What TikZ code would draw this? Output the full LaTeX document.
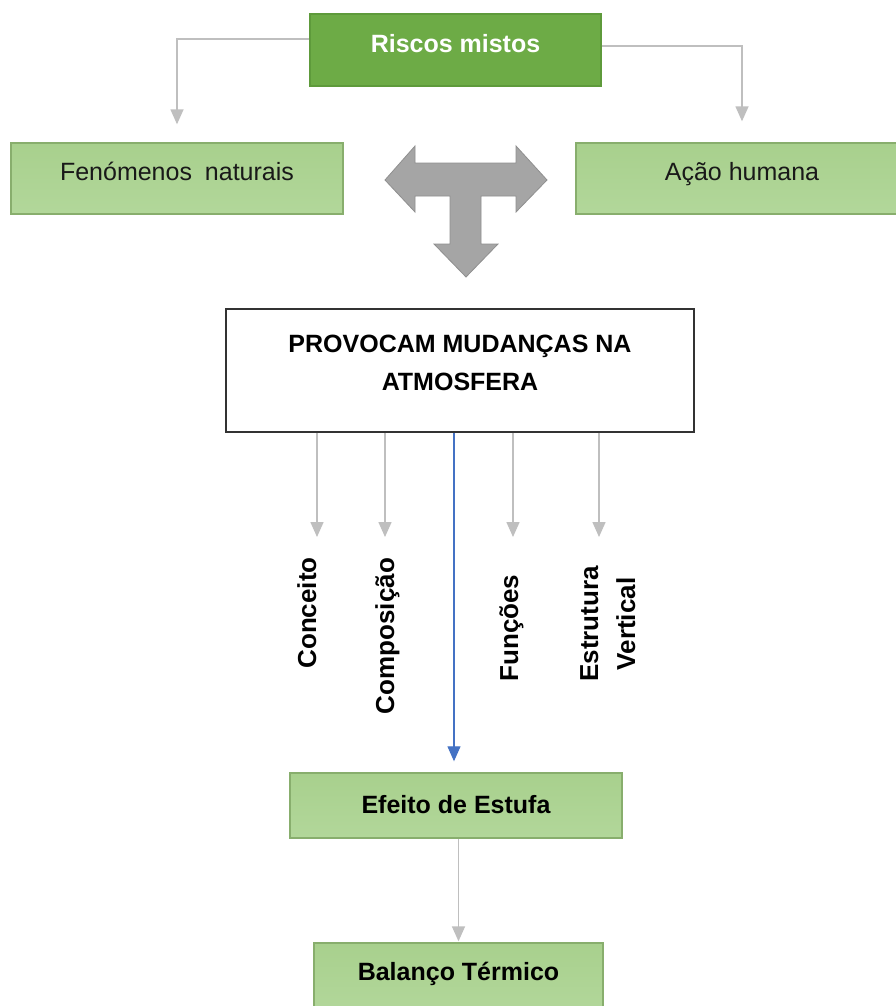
\documentclass[tikz,border=0pt]{standalone}
\usepackage{fontspec}
\setmainfont{Liberation Sans}
\usetikzlibrary{arrows.meta}
\definecolor{dkgreen}{HTML}{6DAB46}
\definecolor{dkgreenb}{HTML}{5E9A3B}
\definecolor{ltgreen}{HTML}{A8D08D}
\definecolor{ltgreenb}{HTML}{B2D79A}
\definecolor{gborder}{HTML}{88AE6D}
\definecolor{connc}{HTML}{BFBFBF}
\definecolor{bluec}{HTML}{4472C4}
\definecolor{tgrey}{HTML}{A5A5A5}
\definecolor{tgreyd}{HTML}{8F8F8F}
\definecolor{boxline}{HTML}{333333}
\begin{document}
\begin{tikzpicture}[x=1pt,y=-1pt,
  dkbox/.style={fill=dkgreen, draw=dkgreenb, line width=1.2pt, text=white,
    font=\bfseries\fontsize{25}{30}\selectfont, inner sep=0pt},
  lgbox/.style={draw=gborder, line width=1.4pt, top color=ltgreen, bottom color=ltgreenb,
    inner sep=0pt, minimum width=332pt},
  regtext/.style={font=\fontsize{25}{30}\selectfont, text=black!90},
  boldtext/.style={font=\bfseries\fontsize{25}{30}\selectfont, text=black},
  wbox/.style={draw=boxline, line width=1.8pt, fill=white, inner sep=0pt,
    align=center, font=\bfseries\fontsize{25}{38}\selectfont},
  rotlabel/.style={rotate=90, inner sep=0pt, text height=19pt, text depth=0pt,
    font=\bfseries\fontsize{26}{37}\selectfont, align=center},
  conn/.style={draw=connc, line width=1.5pt, -{Triangle[width=13pt,length=15pt]}},
  blueconn/.style={draw=bluec, line width=1.2pt, -{Triangle[width=13pt,length=15pt]}},
  tarrow/.style={fill=tgrey, draw=tgreyd, line width=0.8pt, line join=miter}
]
\useasboundingbox (0,0) rectangle (895,1006);
\fill[white] (0,0) rectangle (895,1006);

% top
\node[dkbox, minimum width=291pt, minimum height=72pt, text height=18pt, text depth=12pt]
  (risk) at (455.5,50) {Riscos mistos};
\node[lgbox, regtext, minimum height=71pt, text height=18pt, text depth=15pt]
  (fen) at (177,178.5) {Fenómenos\hspace{6pt} naturais};
\node[lgbox, regtext, minimum height=71pt, text height=18pt, text depth=15pt]
  (acao) at (742,178.5) {Ação humana};

\draw[conn, shorten >=18pt] ([yshift=11pt]risk.west) -| (fen.north);
\draw[conn, shorten >=21pt] ([yshift=4pt]risk.east) -| (acao.north);

% T arrow
\draw[tarrow] (385,180) -- (415,146) -- (415,163) -- (516,163) -- (516,146) -- (547,180)
  -- (516,212) -- (516,196) -- (481,196) -- (481,244) -- (498,244) -- (466,277)
  -- (434,244) -- (450,244) -- (450,196) -- (415,196) -- (415,212) -- cycle;

% central box
\node[wbox, minimum width=468pt, minimum height=123pt, text height=39pt, text depth=0pt]
  (prov) at (460,370.5) {PROVOCAM MUDANÇAS NA\\ATMOSFERA};

% label arrows
\coordinate (c1) at (317,537);
\coordinate (c2) at (385,537);
\coordinate (c3) at (513,537);
\coordinate (c4) at (599,537);
\draw[conn] (prov.south -| c1) -- (c1);
\draw[conn] (prov.south -| c2) -- (c2);
\draw[conn] (prov.south -| c3) -- (c3);
\draw[conn] (prov.south -| c4) -- (c4);

\node[rotlabel] (l1) at (306.5,613) {Conceito};
\node[rotlabel] (l2) at (384.5,636) {Composição};
\node[rotlabel] (l3) at (508.5,628) {Funções};
\node[rotlabel] (l4) at (625.5,624) {Estrutura\\Vertical};

% bottom
\node[lgbox, boldtext, minimum height=65pt, text height=18pt, text depth=3pt]
  (efe) at (456,805.5) {Efeito de Estufa};
\node[lgbox, boldtext, minimum width=289pt, minimum height=67pt, text height=18pt, text depth=11pt]
  (bal) at (458.5,976.5) {Balanço Térmico};

\draw[blueconn, shorten >=11pt] (prov.south -| 454,0) -- (efe.north -| 454,0);
\draw[conn, shorten >=1pt] (efe.south -| bal.north) -- (bal.north);
\end{tikzpicture}
\end{document}
